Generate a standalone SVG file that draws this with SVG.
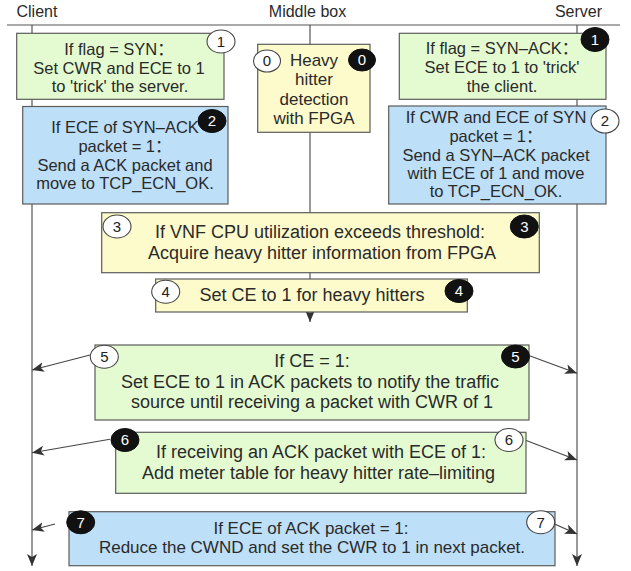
<svg xmlns="http://www.w3.org/2000/svg" width="631" height="571" viewBox="0 0 631 571">
<style>
.bx{stroke:#5c5c5c;stroke-width:1.2}
.g{fill:#e4fbd1}.y{fill:#fdfbcb}.b{fill:#bddff8}
.t{font-family:"Liberation Sans","Noto Sans CJK SC",sans-serif;fill:#2a2a2a;text-anchor:middle}
.s16{font-size:16.5px}.s17{font-size:17px}.s18{font-size:18px}
.hd{font-family:"Liberation Sans",sans-serif;font-size:16px;fill:#2a2a2a}
.ln{stroke:#454545;stroke-width:1.1;fill:none}
.ar{marker-end:url(#ah)}
.cw{fill:#ffffff;stroke:#444;stroke-width:1.1}
.cb{fill:#111111;stroke:#111;stroke-width:1}
.nw{font-family:"Liberation Sans",sans-serif;font-size:15px;fill:#222;text-anchor:middle}
.nb{font-family:"Liberation Sans",sans-serif;font-size:15px;fill:#ffffff;text-anchor:middle}
</style>
<defs>
<marker id="ah" viewBox="0 0 12 10" refX="12" refY="5" markerWidth="12" markerHeight="10" markerUnits="userSpaceOnUse" orient="auto">
<path d="M0,0 L12,5 L0,10 L3,5 z" fill="#333"/>
</marker>
</defs>
<rect width="631" height="571" fill="#ffffff"/>
<g id="header">
<text class="hd" x="16.5" y="17.3">Client</text>
<text class="hd" x="307.5" y="17.3" text-anchor="middle">Middle box</text>
<text class="hd" x="602" y="17.3" text-anchor="end">Server</text>
<line x1="7" y1="25" x2="620" y2="25" stroke="#555" stroke-width="1.1"/>
</g>
<g id="connectors">
<line class="ln ar" x1="32" y1="25" x2="32" y2="566"/>
<line class="ln ar" x1="310" y1="25" x2="310" y2="322"/>
<line class="ln ar" x1="577" y1="25" x2="577" y2="566"/>
<line class="ln ar" x1="90" y1="355" x2="32" y2="370"/>
<line class="ln ar" x1="529.5" y1="355.7" x2="577" y2="373.3"/>
<line class="ln ar" x1="110" y1="439.3" x2="32" y2="452.7"/>
<line class="ln ar" x1="523" y1="439.3" x2="577" y2="460"/>
<line class="ln ar" x1="55" y1="524" x2="32" y2="530"/>
<line class="ln ar" x1="554.5" y1="524" x2="577" y2="534"/>
</g>
<g id="box0">
<rect class="bx y" x="257.7" y="44.3" width="112.3" height="88"/>
<text class="t s17" x="314" y="65.5">Heavy</text>
<text class="t s17" x="314" y="85">hitter</text>
<text class="t s17" x="314" y="104.5">detection</text>
<text class="t s17" x="314" y="124">with FPGA</text>
<ellipse class="cw" cx="267" cy="61" rx="13.5" ry="11"/><text class="nw" x="267" y="66.3">0</text>
<ellipse class="cb" cx="362" cy="60" rx="13.5" ry="11"/><text class="nb" x="362" y="65.3">0</text>
</g>
<g id="box1-client">
<rect class="bx g" x="16.7" y="33.3" width="207.3" height="66"/>
<text class="t s16" x="119" y="55">If flag = SYN：</text>
<text class="t s16" x="119" y="73.5">Set CWR and ECE to 1</text>
<text class="t s16" x="120" y="92">to 'trick' the server.</text>
<ellipse class="cw" cx="221" cy="41.5" rx="14" ry="11.5"/><text class="nw" x="221" y="46.8">1</text>
</g>
<g id="box1-server">
<rect class="bx g" x="399.3" y="33.3" width="206.7" height="66"/>
<text class="t s16" x="502" y="54">If flag = SYN–ACK：</text>
<text class="t s16" x="502" y="72.7">Set ECE to 1 to 'trick'</text>
<text class="t s16" x="502" y="91.5">the client.</text>
<ellipse class="cb" cx="595" cy="39.5" rx="14" ry="12"/><text class="nb" x="595" y="44.8">1</text>
</g>
<g id="box2-client">
<rect class="bx b" x="22.7" y="106.5" width="205.3" height="97.5"/>
<text class="t s16" x="125" y="132.7">If ECE of SYN–ACK</text>
<text class="t s16" x="125" y="151.5">packet = 1：</text>
<text class="t s16" x="125" y="170.5">Send a ACK packet and</text>
<text class="t s16" x="125" y="189.3">move to TCP_ECN_OK.</text>
<ellipse class="cb" cx="212" cy="121" rx="14" ry="11.5"/><text class="nb" x="212" y="126.3">2</text>
</g>
<g id="box2-server">
<rect class="bx b" x="388.7" y="106" width="217.3" height="98"/>
<text class="t s16" x="496" y="122.7">If CWR and ECE of SYN</text>
<text class="t s16" x="496" y="141.5">packet = 1：</text>
<text class="t s16" x="496" y="160.5">Send a SYN–ACK packet</text>
<text class="t s16" x="496" y="179.2">with ECE of 1 and move</text>
<text class="t s16" x="496" y="197.3">to TCP_ECN_OK.</text>
<ellipse class="cw" cx="605" cy="121" rx="14" ry="12"/><text class="nw" x="605" y="126.3">2</text>
</g>
<g id="box3">
<rect class="bx y" x="101.7" y="212.7" width="437.6" height="60"/>
<text class="t s18" x="320" y="238.3">If VNF CPU utilization exceeds threshold:</text>
<text class="t s18" x="322" y="259">Acquire heavy hitter information from FPGA</text>
<ellipse class="cw" cx="117" cy="226.5" rx="14" ry="11.5"/><text class="nw" x="117" y="231.8">3</text>
<ellipse class="cb" cx="524.3" cy="226.5" rx="14" ry="11.5"/><text class="nb" x="524.3" y="231.8">3</text>
</g>
<g id="box4">
<rect class="bx y" x="155.7" y="279" width="311.6" height="33"/>
<text class="t s18" x="312" y="301">Set CE to 1 for heavy hitters</text>
<ellipse class="cw" cx="165.7" cy="291.7" rx="14" ry="11.5"/><text class="nw" x="165.7" y="297">4</text>
<ellipse class="cb" cx="459" cy="291" rx="14" ry="11.5"/><text class="nb" x="459" y="296.3">4</text>
</g>
<g id="box5">
<rect class="bx g" x="95" y="345" width="434" height="75"/>
<text class="t s18" x="312" y="366.5">If CE = 1:</text>
<text class="t s18" x="310" y="387.5">Set ECE to 1 in ACK packets to notify the traffic</text>
<text class="t s18" x="312" y="408.3">source until receiving a packet with CWR of 1</text>
<ellipse class="cw" cx="104.3" cy="356.7" rx="14" ry="11.5"/><text class="nw" x="104.3" y="362">5</text>
<ellipse class="cb" cx="515.5" cy="356.5" rx="14" ry="11.5"/><text class="nb" x="515.5" y="361.8">5</text>
</g>
<g id="box6">
<rect class="bx g" x="115.7" y="432.3" width="410.3" height="61"/>
<text class="t s18" x="321" y="458.3">If receiving an ACK packet with ECE of 1:</text>
<text class="t s18" x="318.5" y="479">Add meter table for heavy hitter rate–limiting</text>
<ellipse class="cb" cx="125" cy="440" rx="14" ry="11.5"/><text class="nb" x="125" y="445.3">6</text>
<ellipse class="cw" cx="509" cy="440" rx="14" ry="11.5"/><text class="nw" x="509" y="445.3">6</text>
</g>
<g id="box7">
<rect class="bx b" x="69" y="511.7" width="486" height="54"/>
<text class="t s17" x="311" y="534.3">If ECE of ACK packet = 1:</text>
<text class="t s17" x="312" y="553.3">Reduce the CWND and set the CWR to 1 in next packet.</text>
<ellipse class="cb" cx="80.7" cy="522.3" rx="14" ry="11.5"/><text class="nb" x="80.7" y="527.6">7</text>
<ellipse class="cw" cx="540.7" cy="522.3" rx="14" ry="11.5"/><text class="nw" x="540.7" y="527.6">7</text>
</g>
</svg>
